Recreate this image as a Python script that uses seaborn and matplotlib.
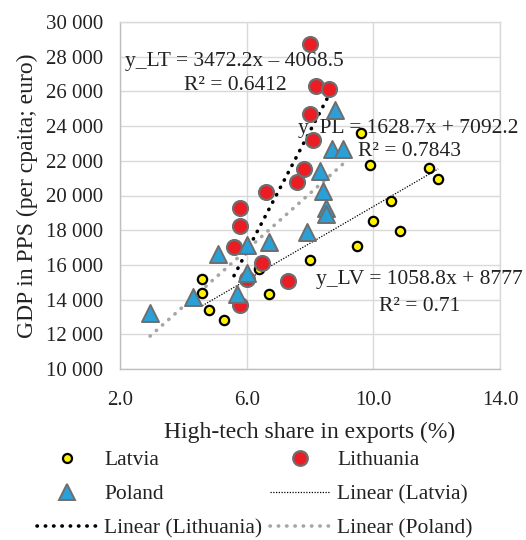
import numpy as np
import pandas as pd
import matplotlib
matplotlib.use("Agg")
import matplotlib.pyplot as plt
from matplotlib.lines import Line2D
from matplotlib.ticker import FuncFormatter, FixedLocator
import seaborn as sns

# ---- data ----
lv_x = [4.6, 4.6, 4.8, 5.3, 6.4, 6.7, 8.0, 9.5, 10.0, 10.85, 10.55, 12.05, 11.75, 9.6, 9.9]
lv_y = [15200, 14400, 13400, 12850, 15750, 14350, 16300, 17100, 18550, 17950, 19700, 20950, 21600, 23600, 21750]

lt_x = [8.0, 8.2, 8.6, 8.0, 8.1, 7.8, 7.6, 6.6, 5.8, 5.8, 5.6, 6.5, 6.0, 7.3, 5.8]
lt_y = [28750, 26300, 26150, 24700, 23200, 21500, 20750, 20200, 19300, 18250, 17050, 16100, 15200, 15100, 13700]

pl_x = [8.8, 8.7, 9.05, 8.3, 8.4, 8.5, 8.5, 7.9, 6.7, 6.0, 5.1, 6.0, 5.7, 4.3, 2.95]
pl_y = [24950, 22700, 22700, 21400, 20250, 19300, 18950, 17900, 17300, 17150, 16650, 15550, 14350, 14150, 13250]

countries = ["Latvia", "Lithuania", "Poland"]
trend_slopes = [1058.8, 3472.2, 1628.7]
trend_intercepts = [8777.0, -4068.5, 7092.2]
eq_texts = ["y_LV = 1058.8x + 8777", "y_LT = 3472.2x \u2013 4068.5", "y_PL = 1628.7x + 7092.2"]
r2_texts = ["R\u00b2 = 0.71", "R\u00b2 = 0.6412", "R\u00b2 = 0.7843"]

x_ticks = [2.0, 6.0, 10.0, 14.0]
y_ticks = list(range(10000, 30001, 2000))

# ---- style ----
sns.set_style("white")
plt.rcParams["font.family"] = ["Liberation Serif", "DejaVu Serif"]

fig = plt.figure(figsize=(5.26, 5.40), dpi=100)
ax = fig.add_axes([120 / 526, 1 - 369 / 540, 380 / 526, 347 / 540])

grid_c = "#D9D9D9"
ax.set_xlim(2, 14)
ax.set_ylim(10000, 30000)
ax.xaxis.set_major_locator(FixedLocator(x_ticks))
ax.yaxis.set_major_locator(FixedLocator(y_ticks))
ax.grid(True, color=grid_c, linewidth=1.0)
ax.set_axisbelow(True)
for s in ax.spines.values():
    s.set_color(grid_c)
    s.set_linewidth(1.0)
ax.spines["left"].set_color("#BFBFBF")
ax.spines["bottom"].set_color("#BFBFBF")

ax.xaxis.set_major_formatter(FuncFormatter(lambda v, p: f"{v:.1f}"))
ax.yaxis.set_major_formatter(FuncFormatter(lambda v, p: f"{int(v):,}".replace(",", " ")))
ax.tick_params(axis="x", length=0, pad=16, labelsize=15, colors="#222222")
ax.tick_params(axis="y", length=0, pad=12, labelsize=15, colors="#222222")

# ---- trend lines ----
series_x = [lv_x, lt_x, pl_x]
line_styles = [
    dict(color="black", linewidth=0.9, linestyle=(0, (1, 1.2))),
    dict(color="black", linewidth=2.6, linestyle=(0, (0.1, 2.2)), dash_capstyle="round"),
    dict(color="#A6A6A6", linewidth=2.6, linestyle=(0, (0.1, 2.2)), dash_capstyle="round"),
]
for xs, m, b, st in zip(series_x, trend_slopes, trend_intercepts, line_styles):
    xr = np.array([min(xs), max(xs)])
    df_line = pd.DataFrame({"x": xr, "y": m * xr + b})
    sns.lineplot(data=df_line, x="x", y="y", ax=ax, **st)

# ---- scatter ----
red = "#EC1C24"
blue = "#2AA0D8"
yellow = "#FFF200"
sns.scatterplot(x=lv_x, y=lv_y, ax=ax, color=yellow, edgecolor="black", linewidth=1.6, s=45, marker="o", zorder=3)
sns.scatterplot(x=lt_x, y=lt_y, ax=ax, color=red, edgecolor="#6E6E6E", linewidth=1.6, s=115, marker="o", zorder=4)
sns.scatterplot(x=pl_x, y=pl_y, ax=ax, color=blue, edgecolor="#6E6E6E", linewidth=1.4, s=150, marker="^", zorder=5)

# ---- annotations ----
tc = "#222222"
fs = 15.5
ax.text(2.17, 27740, eq_texts[1], fontsize=fs, color=tc, ha="left", va="center")
ax.text(5.63, 26360, r2_texts[1], fontsize=fs, color=tc, ha="center", va="center")
ax.text(7.62, 23850, eq_texts[2], fontsize=fs, color=tc, ha="left", va="center", clip_on=False)
ax.text(11.13, 22510, r2_texts[2], fontsize=fs, color=tc, ha="center", va="center")
ax.text(8.18, 15130, eq_texts[0], fontsize=fs, color=tc, ha="left", va="center", clip_on=False)
ax.text(11.46, 13590, r2_texts[0], fontsize=fs, color=tc, ha="center", va="center")

ax.set_xlabel("High-tech share in exports (%)", fontsize=17, color=tc, labelpad=8)
ax.set_ylabel("GDP in PPS (per cpaita; euro)", fontsize=17, color=tc, labelpad=6)
ax.set_title("")

# ---- legend ----
h_lv = Line2D([], [], linestyle="none", marker="o", markersize=6.5, markerfacecolor=yellow,
              markeredgecolor="black", markeredgewidth=1.6)
h_lt = Line2D([], [], linestyle="none", marker="o", markersize=10.5, markerfacecolor=red,
              markeredgecolor="#6E6E6E", markeredgewidth=1.6)
h_pl = Line2D([], [], linestyle="none", marker="^", markersize=11, markerfacecolor=blue,
              markeredgecolor="#6E6E6E", markeredgewidth=1.4)
h_llv = Line2D([], [], **line_styles[0])
h_llt = Line2D([], [], **line_styles[1])
h_lpl = Line2D([], [], **line_styles[2])

handles = [h_lv, h_pl, h_llt, h_lt, h_llv, h_lpl]
labels = ["Latvia", "Poland", "Linear (Lithuania)", "Lithuania", "Linear (Latvia)", "Linear (Poland)"]
fig.legend(handles, labels, loc="upper left", bbox_to_anchor=(37 / 526, 1 - 450 / 540),
           ncol=2, frameon=False, fontsize=15.5, handlelength=2.75, handletextpad=0.37,
           columnspacing=0.37, labelspacing=0.66, borderpad=0, borderaxespad=0,
           labelcolor=tc)

fig.savefig("out.png", dpi=100)
